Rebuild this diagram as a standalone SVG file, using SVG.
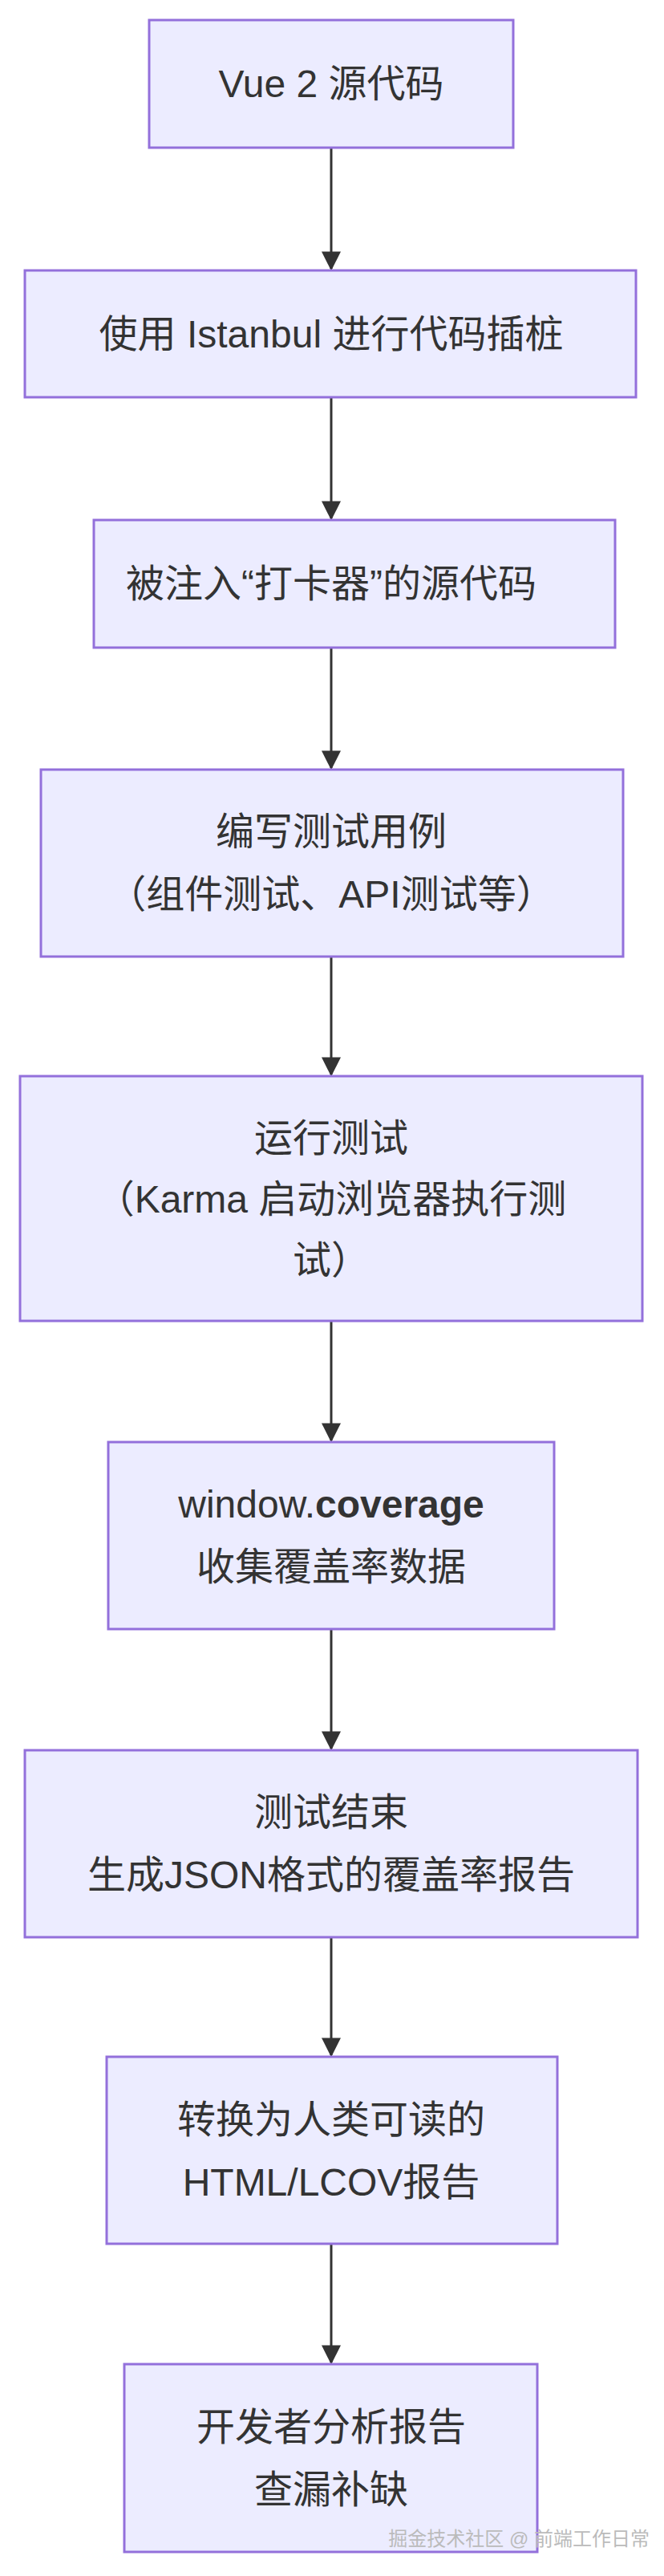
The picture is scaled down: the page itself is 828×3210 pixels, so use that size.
<svg xmlns="http://www.w3.org/2000/svg" width="828" height="3210" viewBox="0 0 828 3210">
<style>
.n{fill:#ECECFF;stroke:#9370DB;stroke-width:3}
.t{font-family:"Liberation Sans","Noto Sans CJK SC",sans-serif;font-size:48px;fill:#333;text-anchor:middle;dominant-baseline:central}
.e{stroke:#333;stroke-width:3;fill:none;marker-end:url(#a)}
</style>
<defs><marker id="a" viewBox="0 0 10 10" refX="9" refY="5" markerWidth="8" markerHeight="8" orient="auto"><path d="M0,0L10,5L0,10z" fill="#333"/></marker></defs>
<rect width="828" height="3210" fill="#fff"/>
<g id="edges">
<path class="e" d="M413,184V335"/>
<path class="e" d="M413,495V646"/>
<path class="e" d="M413,807V957"/>
<path class="e" d="M413,1192V1339"/>
<path class="e" d="M413,1646V1795"/>
<path class="e" d="M413,2030V2179"/>
<path class="e" d="M413,2414V2561"/>
<path class="e" d="M413,2796V2944"/>
</g>
<g id="n1"><rect class="n" x="186" y="25" width="454" height="159"/><text class="t" x="413" y="104">Vue 2 源代码</text></g>
<g id="n2"><rect class="n" x="31" y="337" width="762" height="158"/><text class="t" x="413" y="416">使用 Istanbul 进行代码插桩</text></g>
<g id="n3"><rect class="n" x="117" y="648" width="650" height="159"/><text class="t" x="413" y="727">被注入“打卡器”的源代码</text></g>
<g id="n4"><rect class="n" x="51" y="959" width="726" height="233"/><text class="t" x="413" y="1036">编写测试用例</text><text class="t" x="413" y="1114">（组件测试、API测试等）</text></g>
<g id="n5"><rect class="n" x="25" y="1341" width="776" height="305"/><text class="t" x="413" y="1418">运行测试</text><text class="t" x="413" y="1494">（Karma 启动浏览器执行测</text><text class="t" x="413" y="1570">试）</text></g>
<g id="n6"><rect class="n" x="135" y="1797" width="556" height="233"/><text class="t" x="413" y="1874">window.<tspan font-weight="bold">coverage</tspan></text><text class="t" x="413" y="1952">收集覆盖率数据</text></g>
<g id="n7"><rect class="n" x="31" y="2181" width="764" height="233"/><text class="t" x="413" y="2258">测试结束</text><text class="t" x="413" y="2336">生成JSON格式的覆盖率报告</text></g>
<g id="n8"><rect class="n" x="133" y="2563" width="562" height="233"/><text class="t" x="413" y="2641">转换为人类可读的</text><text class="t" x="413" y="2719">HTML/LCOV报告</text></g>
<g id="n9"><rect class="n" x="155" y="2946" width="515" height="234"/><text class="t" x="413" y="3024">开发者分析报告</text><text class="t" x="413" y="3102">查漏补缺</text></g>
<text x="810" y="3172" style="font-family:'Liberation Sans','Noto Sans CJK SC',sans-serif;font-size:24px;fill:#bbb;text-anchor:end">掘金技术社区 @ 前端工作日常</text>
</svg>
